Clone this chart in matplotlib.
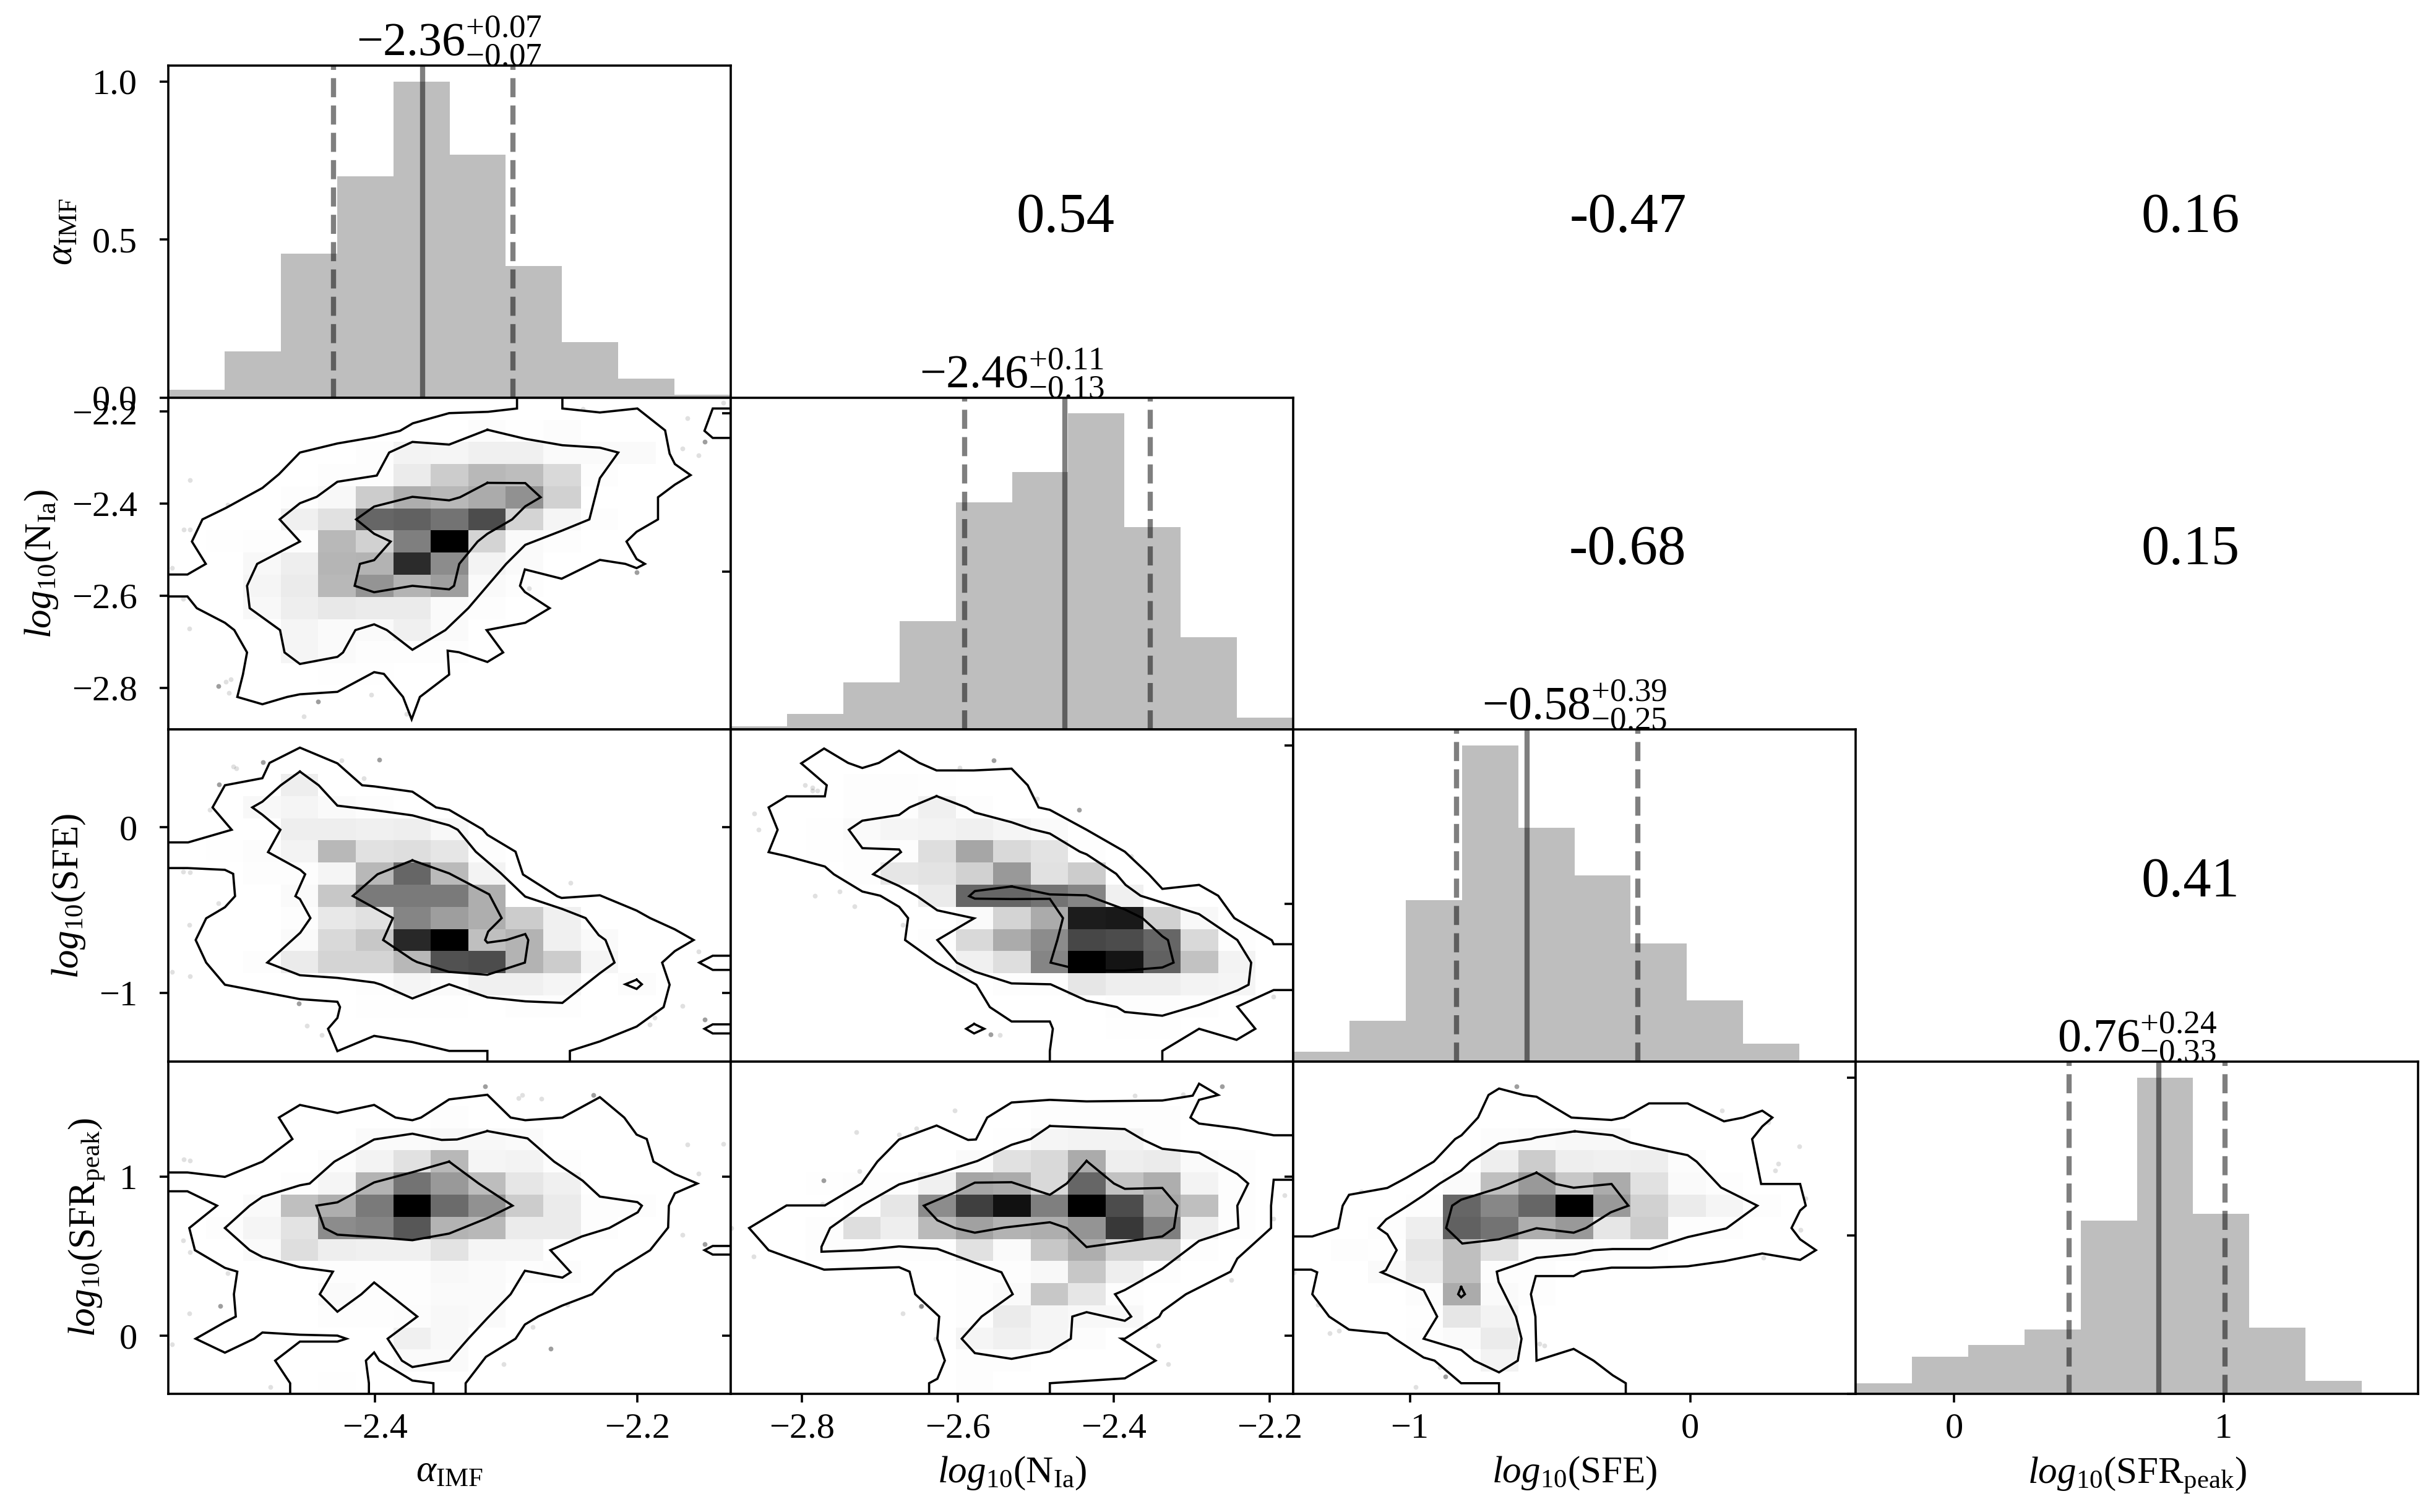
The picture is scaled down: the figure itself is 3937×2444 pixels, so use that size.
import matplotlib
matplotlib.use('Agg')
import matplotlib.pyplot as plt
import numpy as np

plt.rcParams['font.family'] = ['Liberation Serif', 'DejaVu Serif']
plt.rcParams['mathtext.fontset'] = 'custom'
plt.rcParams['mathtext.rm'] = 'Liberation Serif'
plt.rcParams['mathtext.it'] = 'Liberation Serif:italic'
plt.rcParams['mathtext.bf'] = 'Liberation Serif:bold'

labels = [r'$\alpha_{\mathrm{IMF}}$', r'$log_{10}(\mathrm{N_{Ia}})$',
          r'$log_{10}(\mathrm{SFE})$', r'$log_{10}(\mathrm{SFR_{peak}})$']
limits = [(-2.5575, -2.1288), (-2.891, -2.170), (-1.416, 0.59), (-0.365, 1.722)]
ticks = [[-2.4, -2.2], [-2.8, -2.6, -2.4, -2.2], [-1, 0], [0, 1]]
hist_ticks = [0, 0.5, 1.0]

hist_alpha = [0.025, 0.147, 0.455, 0.70, 1.0, 0.768, 0.416, 0.175, 0.06, 0.009]
hist_nia = [0.010, 0.05, 0.149, 0.343, 0.719, 0.815, 1.0, 0.64, 0.292, 0.038]
hist_sfe = [0.031, 0.129, 0.511, 1.0, 0.74, 0.589, 0.374, 0.194, 0.058, 0.004]
hist_sfr = [0.034, 0.118, 0.154, 0.204, 0.548, 1.0, 0.569, 0.21, 0.042, 0.004]

# 16th, 50th, 84th percentile
quant_alpha = [-2.4317, -2.3636, -2.2948]
quant_nia = [-2.591, -2.463, -2.353]
quant_sfe = [-0.834, -0.582, -0.186]
quant_sfr = [0.426, 0.759, 1.005]

titles = [r'$-2.36^{+0.07}_{-0.07}$', r'$-2.46^{+0.11}_{-0.13}$',
          r'$-0.58^{+0.39}_{-0.25}$', r'$0.76^{+0.24}_{-0.33}$']

corr_alpha_nia = '0.54'
corr_alpha_sfe = '-0.47'
corr_alpha_sfr = '0.16'
corr_nia_sfe = '-0.68'
corr_nia_sfr = '0.15'
corr_sfe_sfr = '0.41'

# 2d histograms, darkness per bin, rows from the top of the panel
grid_alpha_nia = [
    [0, 0, 0, 0, 0, 0, 0, 0, 0, 0, 0, 0, 0, 0, 0],
    [0, 0, 0, 0, 0, 0, 0, 0, .015, .005, .015, 0, 0, 0, 0],
    [0, 0, 0, 0, 0, .01, .05, .04, .06, .06, .02, .02, .02, 0, 0],
    [0, 0, 0, 0, .01, .01, .08, .2, .28, .26, .15, .01, 0, 0, 0],
    [0, 0, 0, .01, .03, .2, .32, .28, .33, .43, .18, 0, 0, 0, 0],
    [0, 0, 0, .06, .12, .6, .62, .55, .7, .17, .04, .01, 0, 0, 0],
    [0, .005, .01, .01, .28, .18, .5, 1, .17, .02, .01, 0, 0, 0, 0],
    [0, 0, .03, .07, .29, .3, .83, .45, .05, .02, 0, 0, 0, 0, 0],
    [0, 0, .04, .08, .28, .42, .3, .38, .02, .01, 0, 0, 0, 0, 0],
    [0, 0, .03, .07, .09, .08, .08, .02, .01, 0, 0, 0, 0, 0, 0],
    [0, 0, 0, .04, .02, .02, .06, .02, 0, 0, 0, 0, 0, 0, 0],
    [0, 0, 0, .04, .02, .01, .01, .01, 0, 0, 0, 0, 0, 0, 0],
    [0, 0, 0, 0, .005, .005, 0, 0, 0, 0, 0, 0, 0, 0, 0],
    [0, 0, 0, 0, 0, 0, 0, 0, 0, 0, 0, 0, 0, 0, 0],
    [0, 0, 0, 0, 0, 0, 0, 0, 0, 0, 0, 0, 0, 0, 0]]
grid_alpha_sfe = [
    [0, 0, 0, 0, 0, 0, 0, 0, 0, 0, 0, 0, 0, 0, 0],
    [0, 0, 0, 0, 0, 0, 0, 0, 0, 0, 0, 0, 0, 0, 0],
    [0, 0, 0, .07, 0, 0, 0, 0, 0, 0, 0, 0, 0, 0, 0],
    [0, 0, .03, .04, .02, .01, 0, 0, 0, 0, 0, 0, 0, 0, 0],
    [0, 0, 0, .07, .07, .06, .07, .03, 0, 0, 0, 0, 0, 0, 0],
    [0, .005, .015, .05, .28, .12, .13, .1, .01, 0, 0, 0, 0, 0, 0],
    [0, 0, .01, .01, .04, .28, .6, .27, .05, 0, 0, 0, 0, 0, 0],
    [0, 0, 0, .02, .22, .52, .52, .52, .32, 0, 0, 0, 0, 0, 0],
    [0, 0, 0, .01, .09, .12, .48, .38, .32, .2, .06, 0, 0, 0, 0],
    [0, 0, 0, .02, .15, .22, .84, 1, .25, .3, .06, .02, 0, 0, 0],
    [0, 0, .01, .08, .17, .17, .28, .68, .7, .3, .2, .04, 0, 0, 0],
    [0, 0, 0, 0, 0, .01, .04, .02, .06, .06, .04, 0, .015, 0, 0],
    [0, 0, 0, 0, 0, .005, .005, .005, 0, .01, .01, 0, 0, 0, 0],
    [0, 0, 0, 0, 0, 0, 0, .003, 0, 0, 0, 0, 0, 0, 0],
    [0, 0, 0, 0, 0, 0, 0, 0, 0, 0, 0, 0, 0, 0, 0]]
grid_alpha_sfr = [
    [0, 0, 0, 0, 0, 0, 0, 0, 0, 0, 0, 0, 0, 0, 0],
    [0, 0, 0, 0, 0, 0, 0, 0, 0, 0, 0, 0, 0, 0, 0],
    [0, 0, 0, 0, 0, 0, 0, .01, 0, 0, 0, 0, 0, 0, 0],
    [0, 0, 0, 0, 0, .02, .02, .03, .03, .02, 0, 0, 0, 0, 0],
    [0, 0, 0, 0, .015, .05, .12, .28, .04, .05, .01, 0, 0, 0, 0],
    [0, 0, 0, .01, .04, .3, .55, .4, .26, .1, .06, 0, 0, 0, 0],
    [0, 0, .02, .25, .32, .52, 1, .58, .43, .2, .08, .01, .01, 0, 0],
    [0, .01, .04, .11, .45, .48, .66, .3, .28, .08, .08, .01, 0, 0, 0],
    [0, 0, .02, .13, .07, .06, .06, .11, .04, .04, 0, 0, 0, 0, 0],
    [0, 0, 0, 0, .01, .01, .01, .03, .02, .01, .015, 0, 0, 0, 0],
    [0, 0, 0, 0, .02, .01, .01, .02, .02, 0, 0, 0, 0, 0, 0],
    [0, 0, 0, 0, .01, .01, .015, .03, .02, 0, 0, 0, 0, 0, 0],
    [0, 0, 0, 0, 0, 0, .06, .03, 0, 0, 0, 0, 0, 0, 0],
    [0, 0, 0, 0, 0, 0, .02, .02, 0, 0, 0, 0, 0, 0, 0],
    [0, 0, 0, 0, .005, 0, 0, 0, 0, 0, 0, 0, 0, 0, 0]]
grid_nia_sfe = [
    [0, 0, 0, 0, 0, 0, 0, 0, 0, 0, 0, 0, 0, 0, 0],
    [0, 0, 0, 0, 0, 0, 0, 0, 0, 0, 0, 0, 0, 0, 0],
    [0, 0, 0, .01, .01, .005, 0, 0, 0, 0, 0, 0, 0, 0, 0],
    [0, 0, 0, .01, .01, .06, .01, 0, 0, 0, 0, 0, 0, 0, 0],
    [0, 0, .005, .02, .04, .05, .06, .04, .02, 0, 0, 0, 0, 0, 0],
    [0, 0, .005, .01, .01, .13, .35, .15, .11, .01, 0, 0, 0, 0, 0],
    [0, 0, 0, .01, .1, .11, .18, .4, .12, .2, 0, 0, 0, 0, 0],
    [0, 0, 0, 0, 0, .08, .6, .6, .55, .48, .06, 0, 0, 0, 0],
    [0, 0, 0, 0, 0, 0, .02, .17, .33, .89, .9, .18, .03, 0, 0],
    [0, 0, 0, 0, 0, .01, .15, .33, .45, .72, .7, .6, .15, .01, 0],
    [0, 0, 0, 0, 0, 0, .06, .13, .48, 1, .92, .62, .24, .05, 0],
    [0, 0, 0, 0, 0, 0, 0, .01, .01, .1, .07, .07, .05, .04, 0],
    [0, 0, 0, 0, 0, 0, 0, 0, 0, 0, .01, .01, .01, 0, 0],
    [0, 0, 0, 0, 0, 0, 0, 0, 0, 0, .005, .005, 0, 0, 0],
    [0, 0, 0, 0, 0, 0, 0, 0, 0, 0, 0, 0, 0, 0, 0]]
grid_nia_sfr = [
    [0, 0, 0, 0, 0, 0, 0, 0, 0, 0, 0, 0, 0, 0, 0],
    [0, 0, 0, 0, 0, 0, 0, 0, 0, 0, 0, 0, 0, 0, 0],
    [0, 0, 0, 0, 0, 0, 0, 0, .01, .01, .01, .01, 0, 0, 0],
    [0, 0, 0, 0, 0, 0, 0, .005, .04, .05, .05, .01, 0, 0, 0],
    [0, 0, 0, 0, 0, 0, .02, .12, .15, .33, .07, .08, .02, .01, 0],
    [0, 0, .005, .01, .01, .06, .35, .33, .15, .6, .24, .32, .05, .01, 0],
    [0, 0, 0, .01, .1, .45, .75, .93, .5, 1, .7, .35, .25, .01, 0],
    [0, 0, .01, .13, .07, .27, .37, .3, .32, .42, .78, .5, .07, .01, 0],
    [0, 0, .01, .01, .01, .01, .12, .02, .22, .32, .17, .17, .01, 0, 0],
    [0, 0, 0, 0, 0, 0, .01, .01, .03, .22, .07, .01, 0, 0, 0],
    [0, 0, 0, 0, 0, 0, .01, .02, .22, .1, .01, 0, 0, 0, 0],
    [0, 0, 0, 0, 0, 0, .01, .08, .04, .03, .03, 0, 0, 0, 0],
    [0, 0, 0, 0, 0, 0, .04, .06, .04, .015, 0, 0, 0, 0, 0],
    [0, 0, 0, 0, 0, 0, .01, .01, 0, 0, 0, 0, 0, 0, 0],
    [0, 0, 0, 0, 0, 0, .01, 0, 0, 0, 0, 0, 0, 0, 0]]
grid_sfe_sfr = [
    [0, 0, 0, 0, 0, 0, 0, 0, 0, 0, 0, 0, 0, 0, 0],
    [0, 0, 0, 0, 0, 0, 0, 0, 0, 0, 0, 0, 0, 0, 0],
    [0, 0, 0, 0, 0, 0, 0, .003, 0, 0, 0, 0, 0, 0, 0],
    [0, 0, 0, 0, 0, .015, .02, .03, .03, 0, 0, 0, 0, 0, 0],
    [0, 0, 0, 0, 0, .07, .2, .07, .06, .07, .015, 0, 0, 0, 0],
    [0, 0, 0, 0, .02, .25, .4, .22, .33, .12, .02, .01, 0, 0, 0],
    [0, 0, 0, .01, .6, .47, .6, 1, .4, .18, .08, .04, .01, 0, 0],
    [0, 0, .01, .07, .62, .55, .32, .4, .1, .2, .01, .01, 0, 0, 0],
    [0, .01, .005, .1, .25, .12, .02, .02, .01, .01, 0, 0, 0, 0, 0],
    [0, 0, .02, .08, .25, .01, .01, 0, 0, 0, 0, 0, 0, 0, 0],
    [0, 0, 0, .015, .33, .02, .01, 0, 0, 0, 0, 0, 0, 0, 0],
    [0, 0, .003, .005, .1, .05, 0, 0, 0, 0, 0, 0, 0, 0, 0],
    [0, 0, 0, .01, .02, .08, 0, 0, 0, 0, 0, 0, 0, 0, 0],
    [0, 0, 0, 0, 0, .05, 0, 0, 0, 0, 0, 0, 0, 0, 0],
    [0, 0, 0, 0, 0, 0, 0, 0, 0, 0, 0, 0, 0, 0, 0]]

# contour vertices in bin units (0-15), y counted from the top of the panel
contours_alpha_nia = [
    [(9.30,0),(9.30,.49),(8.53,.64),(7.49,.70),(6.52,1.16),(6.18,1.50),(5.51,1.78),(4.51,2.07),(3.51,2.48),(2.95,3.46),(2.51,4.08),(1.54,4.98),(.91,5.50),(.63,6.50),(1.00,7.51),(.51,7.99),(0,7.99)],
    [(0,8.98),(.51,8.98),(.76,9.51),(1.51,10.17),(1.76,10.50),(2.10,11.51),(1.99,12.51),(1.84,13.52),(2.51,13.85),(3.17,13.52),(3.51,13.40),(4.51,13.29),(5.49,12.40),(5.75,12.48),(6.26,13.52),(6.49,14.53),(6.71,13.52),(7.49,12.51),(7.45,11.43),(7.75,11.50),(8.51,11.94),(8.93,11.51),(8.49,10.50),(9.52,10.17),(10.17,9.51),(9.51,8.78),(9.38,8.50),(9.51,7.76),(10.49,8.18),(11.51,7.33),(12.19,7.51),(12.49,7.70),(12.71,7.51),(12.49,7.29),(12.22,6.50),(12.49,6.06),(13.06,5.50),(13.06,4.50),(13.51,3.93),(13.93,3.50),(13.51,3.00),(13.37,2.53),(13.25,1.48),(12.51,.49),(11.51,.67),(10.51,.49),(10.51,0)],
    [(15,.49),(14.52,.49),(14.30,1.50),(14.52,1.82),(15,1.82)],
    [(8.51,1.45),(9.52,1.86),(10.51,2.15),(11.51,2.26),(12.0,2.48),(11.51,3.64),(11.23,5.50),(10.51,6.0),(9.52,6.65),(9.01,7.51),(8.51,8.50),(8.0,9.51),(7.39,10.50),(6.51,11.39),(5.83,10.50),(5.49,10.24),(4.99,10.50),(4.66,11.51),(4.51,11.71),(3.51,12.03),(3.10,11.51),(2.98,10.50),(2.17,9.51),(2.10,8.50),(2.37,7.51),(3.51,6.50),(2.97,5.50),(3.51,4.77),(3.96,4.48),(4.51,3.80),(5.56,3.52),(5.89,2.48),(6.51,2.0),(7.49,2.12),(8.51,1.45)],
    [(8.51,3.85),(9.52,3.86),(9.93,4.50),(9.52,4.91),(9.17,5.50),(8.51,6.15),(8.25,6.50),(7.76,7.51),(7.62,8.50),(7.49,8.66),(6.51,8.50),(5.49,8.79),(4.97,8.50),(5.11,7.51),(5.49,7.34),(5.93,6.50),(5.49,6.15),(5.01,5.50),(5.49,4.92),(6.51,4.48),(7.49,4.64),(7.78,4.50),(8.51,3.85)]]
contours_alpha_sfe = [
    [(0,5.09),(.53,5.09),(1.69,4.52),(1.18,3.51),(1.51,2.51),(2.51,2.19),(2.70,1.50),(3.51,.81),(4.51,1.52),(5.17,2.51),(5.49,2.56),(6.51,2.80),(7.14,3.51),(7.49,3.62),(8.38,4.50),(8.51,4.75),(9.26,5.51),(9.46,6.54),(10.37,7.52),(10.49,7.60),(11.51,7.48),(12.49,8.17),(12.85,8.51),(13.51,9.02),(14.01,9.50),(13.51,10.0),(13.17,10.52),(13.37,11.52),(13.21,12.53),(12.49,13.41),(11.51,14.08),(10.71,14.51),(10.71,15)],
    [(8.51,15),(8.51,14.51),(7.49,14.51),(6.51,14.11),(5.49,13.83),(4.51,14.52),(4.26,13.51),(4.51,13.02),(4.58,12.53),(4.51,12.29),(3.51,12.17),(1.51,11.52),(1.01,10.52),(.73,9.50),(1.01,8.52),(1.51,8.02),(1.78,7.52),(1.73,6.51),(1.51,6.33),(.51,6.25),(0,6.25)],
    [(15,10.21),(14.52,10.21),(14.16,10.52),(14.52,10.85),(15,10.85)],
    [(15,13.31),(14.52,13.31),(14.30,13.51),(14.52,13.72),(15,13.72)],
    [(12.49,11.29),(12.63,11.50),(12.49,11.71),(12.19,11.50),(12.49,11.29)],
    [(3.51,1.89),(4.01,2.51),(4.51,3.43),(5.49,3.63),(6.51,3.87),(7.49,4.32),(7.72,4.52),(8.20,5.51),(8.86,6.47),(9.52,7.54),(10.51,8.10),(11.13,8.51),(11.48,9.28),(11.66,9.50),(11.90,10.52),(11.51,11.0),(10.51,12.34),(9.52,12.27),(8.51,12.09),(7.49,11.50),(6.51,12.14),(5.68,11.52),(5.49,11.42),(4.51,11.21),(3.51,11.09),(2.64,10.52),(3.52,9.17),(3.79,8.51),(3.51,7.65),(3.39,7.52),(3.65,6.53),(3.52,6.33),(2.66,5.53),(2.99,4.52),(2.51,3.84),(2.24,3.51),(2.51,3.25),(3.0,2.51),(3.51,1.89)],
    [(6.51,5.90),(7.49,6.49),(8.56,7.44),(8.89,8.51),(8.53,9.12),(8.45,9.50),(8.51,9.62),(9.02,9.50),(9.52,9.23),(9.60,9.50),(9.51,10.52),(8.51,11.07),(7.49,10.94),(6.64,10.50),(6.51,10.39),(5.73,9.50),(5.99,8.51),(4.92,7.51),(5.58,6.53),(6.51,5.90)]]
contours_alpha_sfr = [
    [(0,5.0),(.51,5.0),(1.51,5.20),(2.51,4.51),(3.31,3.49),(2.95,2.52),(3.51,1.95),(4.51,2.31),(5.49,1.95),(6.06,2.52),(6.51,2.64),(6.74,2.52),(7.49,1.70),(8.51,1.49),(9.13,2.52),(9.52,2.64),(10.51,2.52),(11.51,1.60),(12.16,2.52),(12.49,3.29),(12.76,3.49),(12.94,4.51),(13.51,5.07),(14.11,5.50),(13.51,5.94),(13.35,6.50),(13.33,7.49),(12.85,8.51),(12.49,8.89),(11.92,9.48),(11.30,10.50),(10.51,11.01),(9.87,11.50),(9.51,11.87),(9.26,12.51),(8.47,13.33),(7.93,14.52),(7.93,15)],
    [(7.07,15),(7.07,14.52),(6.51,14.40),(5.63,13.50),(5.49,13.13),(5.27,13.50),(5.35,14.52),(5.35,15)],
    [(3.25,15),(3.25,14.52),(2.85,13.50),(3.51,12.64),(4.51,12.64),(4.75,12.51),(4.51,12.37),(3.51,12.33),(2.51,12.23),(2.29,12.51),(1.51,13.14),(.73,12.51),(1.51,11.76),(1.80,11.51),(1.75,10.50),(1.84,9.48),(1.51,9.31),(.71,8.51),(.56,7.51),(1.30,6.50),(.51,5.85),(0,5.85)],
    [(15,8.32),(14.52,8.32),(14.30,8.51),(14.52,8.71),(15,8.71)],
    [(8.51,3.13),(9.58,3.46),(10.29,4.51),(11.05,5.37),(11.51,6.09),(12.51,6.34),(12.63,6.50),(12.52,6.80),(11.76,7.51),(11.03,7.89),(10.19,8.51),(10.73,9.51),(10.51,9.75),(9.51,9.44),(9.13,10.50),(8.51,11.58),(8.0,12.51),(7.49,13.50),(6.51,13.79),(6.23,13.50),(5.85,12.51),(6.64,11.51),(5.49,9.97),(5.15,10.50),(4.51,11.29),(4.04,10.50),(4.39,9.48),(3.51,9.28),(2.51,8.82),(2.17,8.51),(1.51,7.51),(2.17,6.50),(2.51,6.10),(3.51,5.58),(3.77,5.50),(4.43,4.51),(5.49,3.51),(6.51,3.25),(7.29,3.53),(7.70,3.51),(8.51,3.13)],
    [(7.49,4.51),(8.28,5.50),(9.18,6.50),(8.51,7.06),(7.49,7.76),(6.51,8.06),(5.49,7.92),(4.51,7.81),(4.16,7.51),(3.95,6.50),(4.51,6.35),(5.49,5.45),(6.51,4.99),(7.49,4.51)]]
contours_nia_sfe = [
    [(11.51,15),(11.51,14.51),(12.49,13.51),(13.49,14.01),(13.99,13.51),(13.51,12.51),(14.48,11.76),(15,11.76)],
    [(15,9.69),(14.48,9.69),(14.43,9.51),(13.43,8.51),(13.0,7.50),(12.49,7.01),(11.51,7.19),(11.15,6.53),(10.51,5.51),(9.49,4.52),(8.51,3.62),(8.21,3.51),(7.92,2.51),(7.49,1.76),(6.48,1.84),(5.49,1.84),(5.03,1.50),(4.49,.95),(3.95,1.50),(3.51,1.73),(3.13,1.50),(2.49,.85),(1.88,1.52),(2.56,2.51),(2.51,3.01),(1.49,3.01),(1.01,3.51),(1.25,4.52),(1.01,5.53),(1.51,5.72),(2.51,6.18),(2.75,6.53),(3.51,7.31),(3.99,7.50),(4.49,8.0),(4.73,8.51),(4.65,9.50),(5.49,10.52),(6.55,11.52),(6.91,12.53),(7.49,13.18),(8.51,13.18),(8.59,13.51),(8.51,14.51),(8.51,15)],
    [(6.49,13.29),(6.76,13.51),(6.49,13.72),(6.28,13.51),(6.49,13.29)],
    [(5.49,3.0),(6.28,3.51),(6.51,3.74),(7.49,4.18),(8.0,4.48),(8.51,4.69),(9.31,5.51),(9.49,5.63),(10.28,6.51),(10.53,7.01),(10.93,7.50),(12.49,8.33),(13.51,9.50),(13.88,10.52),(13.81,11.52),(13.51,11.78),(12.49,12.43),(11.51,12.92),(10.51,12.75),(10.30,12.53),(9.49,12.24),(8.53,11.50),(7.49,11.46),(6.51,10.93),(6.03,10.52),(5.51,9.50),(6.49,8.52),(5.51,8.16),(4.97,7.52),(4.49,7.06),(3.80,6.53),(4.54,5.53),(4.49,5.41),(3.51,5.35),(3.15,4.52),(3.51,4.11),(4.49,3.85),(4.77,3.51),(5.49,3.0)],
    [(7.49,7.08),(8.51,7.44),(9.49,7.48),(10.51,8.12),(10.98,8.51),(11.51,9.33),(11.66,9.50),(11.81,10.52),(11.51,10.74),(10.51,10.88),(9.49,10.88),(9.01,10.72),(8.53,10.52),(8.71,9.50),(8.86,8.51),(8.51,7.64),(7.49,7.65),(6.51,7.63),(6.36,7.52),(6.51,7.29),(7.49,7.08)]]
contours_nia_sfr = [
    [(5.29,15),(5.29,14.52),(5.51,14.32),(5.71,13.50),(5.51,12.51),(5.56,11.51),(4.92,10.50),(4.77,9.48),(4.49,9.28),(2.49,9.39),(1.51,8.82),(1.01,8.51),(.49,7.51),(1.49,6.49),(2.51,6.49),(3.49,5.50),(3.91,4.51),(4.49,3.51),(5.49,2.88),(6.33,3.53),(6.54,3.51),(6.84,2.52),(7.49,1.84),(8.51,1.72),(9.49,1.79),(11.51,1.75),(12.32,1.53),(12.49,.99),(13.0,1.50),(12.49,1.72),(12.26,2.52),(12.49,2.79),(13.51,3.01),(14.48,3.32),(15,3.32)],
    [(15,5.33),(14.48,5.33),(14.41,6.50),(14.41,7.51),(13.51,8.89),(13.33,9.48),(12.14,10.50),(11.51,11.27),(11.43,11.51),(10.51,12.51),(10.42,12.51),(11.33,13.50),(10.51,14.30),(8.51,14.52),(8.51,15)],
    [(8.51,2.90),(10.51,3.04),(10.98,3.51),(11.51,3.93),(12.49,4.11),(13.51,5.07),(13.80,5.50),(13.51,6.50),(13.54,7.51),(12.49,8.09),(11.51,9.35),(10.51,10.31),(10.25,10.50),(10.68,11.51),(10.51,11.70),(9.49,11.31),(9.11,11.51),(9.07,12.51),(8.51,13.09),(7.49,13.42),(6.51,13.16),(6.16,12.51),(6.69,11.51),(7.52,10.50),(7.22,9.51),(6.51,9.08),(5.51,8.45),(4.49,8.34),(3.51,8.51),(2.42,8.58),(2.42,8.36),(2.65,7.51),(3.49,6.50),(4.49,5.54),(5.53,5.04),(6.58,4.48),(7.49,3.75),(8.0,3.49),(8.51,2.90)],
    [(9.49,4.48),(10.22,5.50),(10.51,5.74),(11.51,5.70),(11.91,6.50),(11.82,7.51),(11.51,7.89),(9.49,8.37),(8.96,7.51),(8.51,7.25),(7.29,7.49),(6.51,7.72),(5.98,7.51),(5.51,7.16),(5.15,6.50),(5.98,5.90),(6.51,5.46),(7.49,5.44),(8.51,6.01),(8.96,5.50),(9.49,4.48)]]
contours_sfe_sfr = [
    [(0,7.89),(.51,7.89),(1.20,7.51),(1.32,6.50),(1.49,6.01),(2.51,5.70),(3.02,5.24),(3.75,4.51),(4.32,3.49),(4.49,3.32),(4.93,2.52),(5.21,1.50),(5.49,1.21),(6.14,1.50),(6.49,1.58),(7.42,2.52),(8.49,2.63),(8.82,2.52),(9.49,1.88),(10.52,1.88),(11.49,2.69),(12.0,2.52),(12.51,2.21),(12.78,2.52),(12.51,2.92),(12.24,3.49),(12.48,5.52),(13.52,5.52),(13.67,6.50),(13.52,6.72),(13.29,7.51),(13.52,8.02),(13.94,8.51),(13.52,8.95),(12.51,8.66),(11.49,9.01),(10.52,9.24),(9.53,9.30),(8.49,9.30),(7.69,9.48),(7.48,9.68),(6.47,9.68),(6.34,10.50),(6.46,11.51),(6.49,13.50),(7.48,12.97),(8.01,13.50),(8.52,14.16),(8.87,14.52),(8.87,15)],
    [(5.49,15),(5.49,14.52),(4.48,14.52),(3.77,13.50),(3.48,13.36),(2.71,12.51),(2.51,12.27),(1.49,12.10),(.96,11.51),(.51,10.50),(.64,9.51),(.48,9.39),(0,9.39)],
    [(7.51,3.14),(8.52,3.32),(9.0,3.65),(9.51,3.86),(10.52,4.22),(10.76,4.51),(11.41,5.68),(12.38,6.50),(11.55,7.53),(10.52,7.92),(9.51,8.46),(8.52,8.46),(8.01,8.51),(7.51,8.69),(6.49,8.86),(5.43,9.48),(5.48,9.95),(5.94,11.51),(6.09,12.51),(5.99,13.50),(5.49,14.03),(4.83,13.50),(4.48,13.02),(3.48,12.51),(3.84,11.51),(3.48,10.32),(2.35,9.51),(2.47,9.42),(2.76,8.51),(2.51,7.79),(2.27,7.51),(2.48,7.12),(3.06,6.50),(3.48,6.03),(3.91,5.50),(4.48,4.91),(4.73,4.51),(5.49,3.69),(6.34,3.49),(6.49,3.41),(7.51,3.14)],
    [(6.49,5.01),(7.0,5.52),(7.48,5.69),(8.49,5.52),(8.94,6.50),(8.47,6.80),(7.81,7.51),(7.48,7.72),(6.49,7.52),(5.49,8.02),(4.51,8.21),(4.08,7.51),(4.24,6.50),(4.48,6.23),(5.49,5.70),(6.49,5.01)],
    [(4.48,10.17),(4.58,10.50),(4.48,10.64),(4.40,10.50),(4.48,10.17)]]

# outlying samples, same units
light_alpha_nia = [(.57,3.73),(.42,5.97),(.57,5.95),(.10,7.70),(.40,9.10),(.56,10.43),(1.66,12.71),(1.53,12.84),(1.61,13.35),(3.61,14.41),(5.41,13.42),(6.35,14.29),(9.62,8.61),(13.84,.93),(13.71,2.31),(14.15,2.62),(14.80,.24),(1.59,4.84),(11.06,.52)]
dark_alpha_nia = [(1.34,13.04),(4.0,13.73),(12.49,7.89),(14.30,1.98)]
light_alpha_sfe = [(1.73,1.65),(1.81,1.76),(4.62,1.37),(5.22,2.18),(1.11,3.62),(.40,6.42),(.57,6.44),(1.33,7.85),(.56,8.82),(.10,10.95),(.57,11.14),(10.73,6.93),(13.71,12.48),(12.97,13.02),(12.83,13.33),(14.15,10.02),(3.69,13.36),(4.10,13.80)]
dark_alpha_sfe = [(2.52,1.48),(5.62,1.36),(1.35,2.48),(3.49,12.38),(14.30,13.10)]
light_alpha_sfr = [(.42,4.40),(.57,4.46),(13.84,3.74),(14.80,3.71),(14.15,5.05),(1.59,9.55),(.40,8.06),(.57,8.61),(13.71,7.82),(.56,11.37),(.10,12.76),(2.72,14.69),(8.95,13.67),(9.72,11.98),(10.65,10.97),(9.44,1.50),(9.95,1.68),(9.34,1.63)]
dark_alpha_sfr = [(8.45,1.11),(11.34,1.51),(1.38,11.03),(10.19,12.96),(14.30,8.25)]
light_nia_sfe = [(2.18,2.61),(2.18,2.75),(2.31,2.75),(.63,3.80),(.74,4.52),(1.98,2.49),(2.91,7.32),(2.25,7.49),(3.30,7.99),(4.58,8.82),(6.10,1.71),(8.17,3.12),(7.18,13.79),(14.47,12.05),(10.68,5.71)]
dark_nia_sfe = [(7.02,1.37),(9.29,3.63),(6.93,13.77)]
light_nia_sfr = [(3.35,3.17),(4.95,3.02),(4.49,3.28),(3.43,4.93),(5.98,2.19),(2.44,6.41),(.02,7.52),(.61,8.79),(10.78,1.53),(12.07,1.47),(13.35,9.85),(14.77,6.03),(14.47,7.10),(11.40,12.82),(11.66,13.66),(11.06,11.94),(4.58,11.37),(5.07,11.07),(5.47,12.51)]
dark_nia_sfr = [(2.47,5.36),(13.10,1.10),(5.09,11.03)]
light_sfe_sfr = [(1.82,5.86),(11.44,2.19),(13.49,3.81),(12.93,4.60),(12.85,4.91),(13.67,6.17),(13.53,7.59),(12.54,8.85),(12.67,2.72),(.01,9.51),(.66,10.97),(.97,12.27),(1.22,12.14),(3.26,14.69),(6.57,12.73),(6.70,12.82),(3.91,13.79)]
dark_sfe_sfr = [(4.06,14.23),(5.95,1.11)]


def bin_to_data(points, xlim, ylim):
    pts = np.array(points, dtype=float)
    x = xlim[0] + pts[:, 0] * (xlim[1] - xlim[0]) / 15
    y = ylim[1] - pts[:, 1] * (ylim[1] - ylim[0]) / 15
    return x, y


def draw_hist(ax, values, quants, xlim, title):
    edges = np.linspace(xlim[0], xlim[1], 11)
    ax.stairs(values, edges, fill=True, color='#bebebe', linewidth=0)
    ax.axvline(quants[0], color='k', alpha=0.5, lw=1.5, ls='--')
    ax.axvline(quants[1], color='k', alpha=0.5, lw=1.5)
    ax.axvline(quants[2], color='k', alpha=0.5, lw=1.5, ls='--')
    ax.set_xlim(xlim)
    ax.set_ylim(0, 1.05)
    ax.set_yticks(hist_ticks)
    ax.annotate(title, xy=(0.5, 1), xycoords='axes fraction', xytext=(0, 3.1),
                textcoords='offset points', ha='center', va='baseline', fontsize=13.7)


def draw_2d(ax, grid, contours, light, dark, xlim, ylim):
    xedges = np.linspace(xlim[0], xlim[1], 16)
    yedges = np.linspace(ylim[1], ylim[0], 16)
    ax.pcolormesh(xedges, yedges, np.array(grid), cmap='gray_r', vmin=0, vmax=1,
                  shading='flat', zorder=1)
    x, y = bin_to_data(light, xlim, ylim)
    ax.plot(x, y, 'o', color='k', alpha=0.12, ms=1.4, mew=0, zorder=2)
    x, y = bin_to_data(dark, xlim, ylim)
    ax.plot(x, y, 'o', color='k', alpha=0.38, ms=1.4, mew=0, zorder=2)
    for line in contours:
        x, y = bin_to_data(line, xlim, ylim)
        ax.plot(x, y, color='k', lw=0.65, zorder=3, solid_joinstyle='miter')
    ax.set_xlim(xlim)
    ax.set_ylim(ylim)


def main():
    fig, axes = plt.subplots(4, 4, figsize=(3937.01 / 400, 2444.01 / 400))
    fig.subplots_adjust(left=272 / 3937, right=3908 / 3937, top=1 - 106 / 2444,
                        bottom=1 - 2253 / 2444, wspace=0, hspace=0)

    hists = [hist_alpha, hist_nia, hist_sfe, hist_sfr]
    quants = [quant_alpha, quant_nia, quant_sfe, quant_sfr]
    for i in range(4):
        draw_hist(axes[i][i], hists[i], quants[i], limits[i], titles[i])

    panels = [(1, 0, grid_alpha_nia, contours_alpha_nia, light_alpha_nia, dark_alpha_nia),
              (2, 0, grid_alpha_sfe, contours_alpha_sfe, light_alpha_sfe, dark_alpha_sfe),
              (3, 0, grid_alpha_sfr, contours_alpha_sfr, light_alpha_sfr, dark_alpha_sfr),
              (2, 1, grid_nia_sfe, contours_nia_sfe, light_nia_sfe, dark_nia_sfe),
              (3, 1, grid_nia_sfr, contours_nia_sfr, light_nia_sfr, dark_nia_sfr),
              (3, 2, grid_sfe_sfr, contours_sfe_sfr, light_sfe_sfr, dark_sfe_sfr)]
    for r, c, grid, contours, light, dark in panels:
        draw_2d(axes[r][c], grid, contours, light, dark, limits[c], limits[r])
        axes[r][c].set_yticks(ticks[r])

    corrs = [(0, 1, corr_alpha_nia), (0, 2, corr_alpha_sfe), (0, 3, corr_alpha_sfr),
             (1, 2, corr_nia_sfe), (1, 3, corr_nia_sfr), (2, 3, corr_sfe_sfr)]
    for r, c, txt in corrs:
        axes[r][c].axis('off')
        axes[r][c].text(0.595, 0.54, txt, transform=axes[r][c].transAxes,
                        ha='center', va='center', fontsize=16.4)

    for r in range(4):
        for c in range(r + 1):
            ax = axes[r][c]
            for sp in ax.spines.values():
                sp.set_linewidth(0.65)
            ax.tick_params(axis='both', length=2.5, width=0.65, labelsize=10.5, direction='out')
            ax.tick_params(axis='y', labelleft=(c == 0), pad=6.5)
            ax.tick_params(axis='x', pad=3)
            if r == 3:
                ax.set_xticks(ticks[c])
                ax.set_xlabel(labels[c], fontsize=11, labelpad=3)
            else:
                ax.set_xticks([])
            if c == 0:
                ax.set_ylabel(labels[r], fontsize=11, labelpad=3.5)

    fig.savefig('out.png', dpi=400)


if __name__ == "__main__":
    main()
